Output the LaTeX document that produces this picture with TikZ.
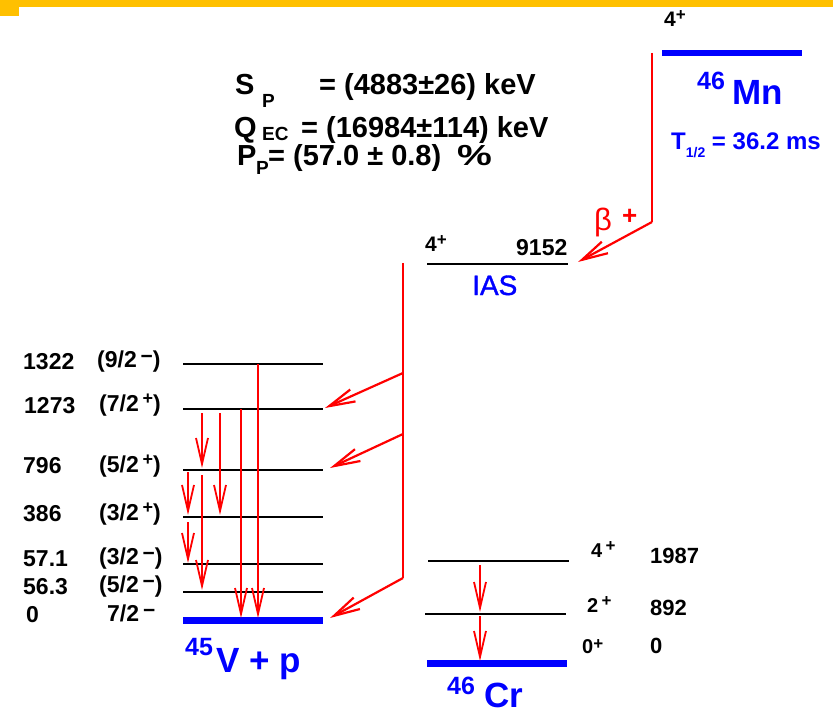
\documentclass[tikz,border=0pt]{standalone}
\usepackage{fontspec}
\setmainfont{Liberation Sans}
\newfontfamily\medfont{Liberation Sans}[FakeBold=1.2]
\usetikzlibrary{arrows.meta}
\definecolor{orng}{HTML}{FFC000}
\definecolor{myblue}{HTML}{0000FF}
\definecolor{myred}{HTML}{FF0000}
\newcommand\fs[1]{\fontsize{#1}{#1}\selectfont}
\newcommand\spr[3]{\raisebox{#1}{\fs{#2}\bfseries #3}}
\begin{document}
\begin{tikzpicture}[x=1pt,y=-1pt,
  txt/.style={inner sep=0pt, anchor=base west},
  lev/.style={line width=2.6pt},
  gnd/.style={myblue, line width=7pt},
  gam/.style={myred, line width=1.8pt, -{Straight Barb[length=26pt,width=12pt]}},
  feed/.style={myred, line width=2.2pt},
  feedarr/.style={feed, -{Straight Barb[length=26pt,width=13pt]}},
  en/.style={txt, font=\fs{23}\bfseries},
  sp/.style={txt, font=\fs{23}\bfseries},
  big/.style={txt, font=\fs{35}\bfseries, text=myblue},
  iso/.style={txt, font=\fs{25}\bfseries, text=myblue},
  info/.style={txt, font=\fs{29}\bfseries},
  infosub/.style={txt, font=\fs{19}\bfseries, text depth=0pt},
]
\useasboundingbox (0,0) rectangle (833,714);
% orange header
\fill[orng] (0,0) rectangle (833,7);
\fill[orng] (0,0) rectangle (19,16);

% ---------- info block ----------
\node[info] (sS) at (235,95) {S};
\node[infosub] (sSsub) at (262,108) {P};
\node[info] (sSval) at (319,95) {= (4883±26) keV};
\node[info] (sQ) at (234,138) {Q};
\node[infosub] (sQsub) at (262,141) {EC};
\node[info] (sQval) at (301,138) {= (16984±114) keV};
\node[info] (sP) at (237,166) {P};
\node[infosub] (sPsub) at (256,175) {P};
\node[info] (sPval) at (268,166) {= (57.0 ± 0.8)};
\node[info] (sPpc) at (457,166) {\scalebox{1.35}[1]{\%}};

% ---------- 46Mn ----------
\coordinate (mnW) at (662,53); \coordinate (mnE) at (802,53);
\draw[myblue, line width=6pt] (mnW) -- (mnE);
\node[txt, font=\fs{21}\bfseries] (mnJ) at (664,27) {4\spr{0.3em}{17}{+}};
\node[iso] (mnA) at (697,90) {46};
\node[big] (mnN) at (732,105) {Mn};
\node[txt, font=\fs{24}\bfseries, text=myblue] (mnT) at (671,150) {T\raisebox{-0.3em}{\fs{14}\bfseries 1/2} = 36.2 ms};

% beta decay
\coordinate (b0) at (652,53);
\coordinate (b1) at (652,222);
\coordinate (bTip) at (578,262);
\draw[feed] (b0) -- (b1);
\draw[feedarr] (b1) -- (bTip);
\node[txt, font=\fs{31}, text=myred] (beta) at (594,231) {β};
\node[txt, font=\fs{26}\bfseries, text=myred] (betap) at (622,225) {+};

% ---------- IAS ----------
\coordinate (iasW) at (427,264); \coordinate (iasE) at (568,264);
\draw[lev] (iasW) -- (iasE);
\node[txt, font=\fs{21}\bfseries] (iasJ) at (425,252) {4\spr{0.3em}{17}{+}};
\node[en] (iasE1) at (516,255) {9152};
\node[txt, font=\fs{28}\medfont, text=myblue] (iasL) at (472,295) {IAS};

% central feeding line
\coordinate (c0) at (403,263);
\coordinate (c1) at (403,373);
\coordinate (c2) at (403,434);
\coordinate (c3) at (403,578);
\coordinate (t1) at (325,408);
\coordinate (t2) at (330,468);
\coordinate (t3) at (330,618);
\draw[feed] (c0) -- (c3);
\draw[feedarr] (c1) -- (t1);
\draw[feedarr] (c2) -- (t2);
\draw[feedarr] (c3) -- (t3);

% ---------- 45V + p levels ----------
\foreach \nm/\yy in {a/364,b/409,c/470,d/517,e/564,f/592}{
  \coordinate (L\nm W) at (183,\yy);
  \coordinate (L\nm E) at (323,\yy);
  \draw[lev] (L\nm W) -- (L\nm E);
}
\coordinate (LgW) at (183,620); \coordinate (LgE) at (323,620);
\draw[gnd] (LgW) -- (LgE);

\node[en] (ea) at (23,369) {1322};
\node[en] (eb) at (24,413) {1273};
\node[en] (ec) at (23,473) {796};
\node[en] (ed) at (23,521) {386};
\node[en] (ee) at (23,566) {57.1};
\node[en] (ef) at (23,594) {56.3};
\node[en] (eg) at (26,622) {0};

\node[sp] (ja) at (97,367) {(9/2\,\spr{0.15em}{21}{−})};
\node[sp] (jb) at (99,411) {(7/2\,\spr{0.3em}{18}{+})};
\node[sp] (jc) at (99,472) {(5/2\,\spr{0.3em}{18}{+})};
\node[sp] (jd) at (99,520) {(3/2\,\spr{0.3em}{18}{+})};
\node[sp] (je) at (99,564) {(3/2\,\spr{0.15em}{21}{−})};
\node[sp] (jf) at (99,592) {(5/2\,\spr{0.15em}{21}{−})};
\node[sp] (jg) at (107,621) {7/2\,\spr{0.15em}{21}{−}};

% gamma transitions
\newcommand\gamline[4]{%
  \coordinate (#1s) at (#2,#3);
  \coordinate (#1e) at (#2,#4);
  \draw[gam] (#1s) -- (#1e);}
\gamline{g1}{258}{364}{618}
\gamline{g2}{241}{409}{618}
\gamline{g3}{220}{413}{515}
\gamline{g4}{202}{413}{468}
\gamline{g5}{202}{475}{590}
\gamline{g6}{188}{472}{515}
\gamline{g7}{188}{522}{563}

\node[iso] (vA) at (185,655) {45};
\node[big] (vN) at (216,672) {V + p};

% ---------- 46Cr ----------
\coordinate (CaW) at (428,561); \coordinate (CaE) at (569,561);
\coordinate (CbW) at (425,614); \coordinate (CbE) at (566,614);
\coordinate (CgW) at (427,663); \coordinate (CgE) at (567,663);
\draw[lev] (CaW) -- (CaE);
\draw[lev] (CbW) -- (CbE);
\draw[gnd] (CgW) -- (CgE);
\node[txt, font=\fs{20}\bfseries] (cJa) at (591,557) {4\,\spr{0.3em}{17}{+}};
\node[txt, font=\fs{20}\bfseries] (cJb) at (587,612) {2\,\spr{0.3em}{17}{+}};
\node[txt, font=\fs{20}\bfseries] (cJg) at (582,653) {0\spr{0.2em}{17}{+}};
\node[txt, font=\fs{22}\bfseries] (cEa) at (650,563) {1987};
\node[txt, font=\fs{22}\bfseries] (cEb) at (650,615) {892};
\node[txt, font=\fs{22}\bfseries] (cEg) at (650,653) {0};
\coordinate (cg1s) at (480,565); \coordinate (cg1e) at (480,612);
\coordinate (cg2s) at (480,616); \coordinate (cg2e) at (480,661);
\draw[gam] (cg1s) -- (cg1e);
\draw[gam] (cg2s) -- (cg2e);
\node[iso] (crA) at (447,694) {46};
\node[big, text depth=0pt] (crN) at (484,707) {Cr};
\end{tikzpicture}
\end{document}
